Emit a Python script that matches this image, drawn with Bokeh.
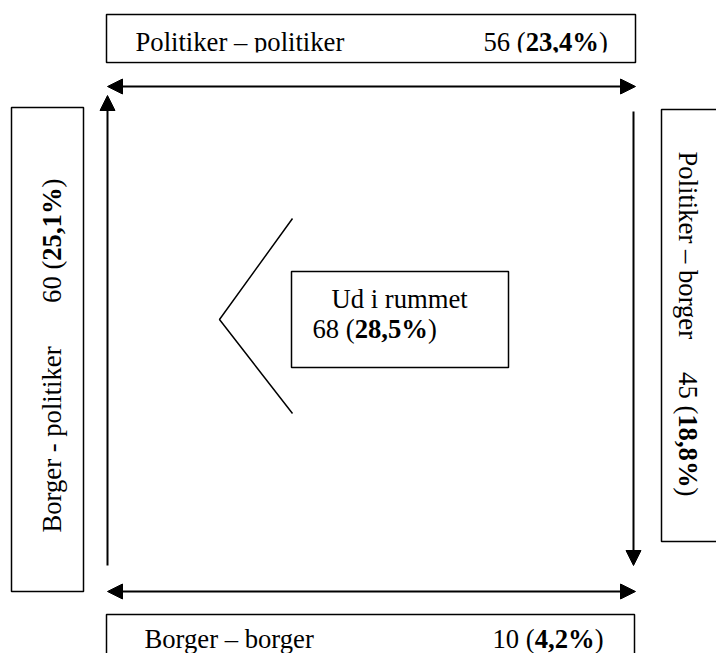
import math
from bokeh.plotting import figure
from bokeh.models import Range1d, Arrow, NormalHead
from bokeh.core.properties import value
from bokeh.embed import file_html
from bokeh.resources import INLINE

# ---- data ----
labels = ["Politiker – politiker", "Borger – borger", "Borger - politiker",
          "Politiker – borger", "Ud i rummet"]
counts = [56, 10, 60, 45, 68]
pcts = [23.4, 4.2, 25.1, 18.8, 28.5]

FONT = "Liberation Serif"
FS = 26.67  # px
SHIFT = 8   # baseline correction (px)

REG = {"0": 500, "1": 500, "2": 500, "3": 500, "4": 500, "5": 500, "6": 500,
       "7": 500, "8": 500, "9": 500, " ": 250, "(": 333, ")": 333, "%": 833,
       ",": 250}
BOLD = dict(REG)
BOLD["%"] = 1000


def tw(s, bold=False):
    m = BOLD if bold else REG
    return sum(m.get(c, 500) for c in s) / 1000.0 * FS


def pct_str(v):
    return f"{v:.1f}".replace(".", ",") + "%"


def pieces(i):
    return [(f"{counts[i]} (", False), (pct_str(pcts[i]), True), (")", False)]


p = figure(width=716, height=653, output_backend="svg", toolbar_location=None,
           x_range=Range1d(1, 717), y_range=Range1d(654, 1), min_border=0)
p.axis.visible = False
p.grid.visible = False
p.outline_line_color = None
p.background_fill_color = "white"


def box(l, r, t, b, lw=1.5):
    p.quad(left=l, right=r, top=t, bottom=b, fill_color="white",
           line_color="black", line_width=lw)


def txt(x, y, s, bold=False, angle=0.0):
    if angle == 0:
        y = y - SHIFT
    elif angle > 0:
        x = x - SHIFT
    else:
        x = x + SHIFT
    p.text(x=[x], y=[y], text=[s], angle=angle,
           text_font=value(FONT), text_font_size=f"{FS}px",
           text_font_style="bold" if bold else "normal",
           text_align="left", text_baseline="alphabetic", text_color="black")


def group_h(x, y, i):
    for s, b in pieces(i):
        txt(x, y, s, b)
        x += tw(s, b)


def group_up(x, y, i):  # reading bottom to top
    for s, b in pieces(i):
        txt(x, y, s, b, angle=math.pi / 2)
        y -= tw(s, b)


def group_down(x, y, i):  # reading top to bottom
    for s, b in pieces(i):
        txt(x, y, s, b, angle=-math.pi / 2)
        y += tw(s, b)


def arrow(x0, y0, x1, y1, start=False, end=True):
    kw = {}
    if start:
        kw["start"] = NormalHead(size=15, fill_color="black", line_color="black")
    kw["end"] = NormalHead(size=15, fill_color="black", line_color="black") if end else None
    p.add_layout(Arrow(x_start=x0, y_start=y0, x_end=x1, y_end=y1,
                       line_width=2, line_color="black", **kw))


# top box
box(107, 636, 15, 63)
txt(136, 50, labels[0])
group_h(484, 50, 0)
p.quad(left=108.5, right=634.5, top=53, bottom=61.8, fill_color="white",
       line_color=None)

# bottom box
box(107, 635, 615, 670)
txt(145, 647, labels[1])
group_h(493, 647, 1)

# left box
box(12, 84, 108, 592)
txt(60, 533, labels[2], angle=math.pi / 2)
group_up(60, 179 + sum(tw(s, b) for s, b in pieces(2)), 2)

# right box
box(662, 740, 110, 542)
txt(680, 152, labels[3], angle=-math.pi / 2)
group_down(680, 497 - sum(tw(s, b) for s, b in pieces(3)), 3)

# centre box
box(292, 509, 272, 368)
txt(332, 307, labels[4])
group_h(313, 337, 4)

# chevron
p.line(x=[293, 220, 293], y=[219, 320, 414], line_color="black", line_width=1.5)

# arrows
arrow(108, 87, 636, 87, start=True, end=True)
arrow(108, 592, 636, 592, start=True, end=True)
arrow(108, 566, 108, 96, start=False, end=True)
arrow(634, 112, 634, 566, start=False, end=True)

open("out.html", "w").write(file_html(p, INLINE))
